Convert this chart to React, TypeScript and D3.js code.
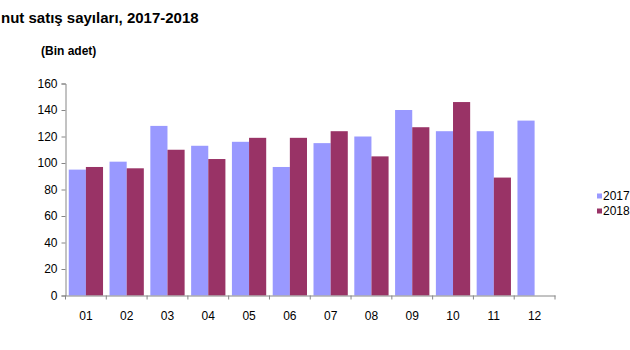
import { useEffect, useRef } from 'react';
import * as d3 from 'd3';

const months = ['01', '02', '03', '04', '05', '06', '07', '08', '09', '10', '11', '12'];
const sales2017 = [95, 101, 128, 113, 116, 97, 115, 120, 140, 124, 124, 132];
const sales2018: (number | null)[] = [97, 96, 110, 103, 119, 119, 124, 105, 127, 146, 89, null];
const yTicks = [0, 20, 40, 60, 80, 100, 120, 140, 160];
const seriesNames = ['2017', '2018'];

const colors = ['#9999ff', '#993366'];
const axisColor = '#868686';
const font = 'Arial, "Liberation Sans", sans-serif';

export default function App() {
  const svgRef = useRef<SVGSVGElement>(null);

  useEffect(() => {
    if (!svgRef.current) return;
    const width = 630;
    const height = 350;
    const margin = { top: 83.5, right: 75, bottom: 54.5, left: 65.5 };

    const svg = d3.select(svgRef.current);
    svg.selectAll('*').remove();
    svg.attr('width', width).attr('height', height);

    const innerW = width - margin.left - margin.right;
    const innerH = height - margin.top - margin.bottom;
    const g = svg.append('g').attr('transform', `translate(${margin.left},${margin.top})`);

    const x = d3.scaleBand().domain(months).range([0, innerW]).paddingInner(0).paddingOuter(0);
    const xInner = d3.scaleBand().domain(seriesNames).range([0, x.bandwidth()]).paddingInner(0).paddingOuter(0.19);
    const y = d3.scaleLinear().domain([0, 160]).range([innerH, 0]);

    // Title (as seen: its start is cut off in the source image)
    svg.append('text')
      .attr('x', 1)
      .attr('y', 23)
      .attr('font-family', font)
      .attr('font-size', 15)
      .attr('font-weight', 'bold')
      .attr('fill', '#000')
      .text('nut satış sayıları, 2017-2018');

    svg.append('text')
      .attr('x', 41)
      .attr('y', 55)
      .attr('font-family', font)
      .attr('font-size', 12)
      .attr('font-weight', 'bold')
      .attr('fill', '#000')
      .text('(Bin adet)');

    // Bars
    const series = [sales2017, sales2018];
    series.forEach((vals, si) => {
      months.forEach((m, i) => {
        const v = vals[i];
        if (v == null) return;
        g.append('rect')
          .attr('x', (x(m) ?? 0) + (xInner(seriesNames[si]) ?? 0))
          .attr('y', y(v))
          .attr('width', xInner.bandwidth())
          .attr('height', innerH - y(v))
          .attr('fill', colors[si]);
      });
    });

    // Y axis
    const yAxis = g.append('g')
      .call(d3.axisLeft(y).tickValues(yTicks).tickSize(4).tickPadding(4));
    yAxis.select('.domain').attr('stroke', axisColor);
    yAxis.selectAll('.tick line').attr('stroke', axisColor);
    yAxis.selectAll('.tick text')
      .attr('font-family', font)
      .attr('font-size', 12)
      .attr('fill', '#000');

    // X axis
    const xAxis = g.append('g')
      .attr('transform', `translate(0,${innerH})`)
      .call(d3.axisBottom(x).tickSize(0).tickPadding(16));
    xAxis.select('.domain').attr('stroke', axisColor);
    xAxis.selectAll('.tick text')
      .attr('font-family', font)
      .attr('font-size', 12)
      .attr('fill', '#000');
    const bounds = months.map((m) => x(m) ?? 0).concat([innerW]);
    xAxis.selectAll('line.bound')
      .data(bounds)
      .enter()
      .append('line')
      .attr('class', 'bound')
      .attr('x1', (d) => d)
      .attr('x2', (d) => d)
      .attr('y1', 0)
      .attr('y2', 4)
      .attr('stroke', axisColor);

    // Legend
    const legend = svg.append('g').attr('transform', 'translate(597,0)');
    seriesNames.forEach((name, i) => {
      const ly = 196 + i * 15;
      legend.append('rect')
        .attr('x', 0)
        .attr('y', ly - 2.5)
        .attr('width', 5)
        .attr('height', 5)
        .attr('fill', colors[i]);
      legend.append('text')
        .attr('x', 6)
        .attr('y', ly)
        .attr('dominant-baseline', 'central')
        .attr('font-family', font)
        .attr('font-size', 12)
        .attr('fill', '#000')
        .text(name);
    });
  }, []);

  return (
    <div style={{ position: 'fixed', left: 0, top: 0, width: 630, height: 350, overflow: 'hidden', background: '#fff' }}>
      <svg ref={svgRef} style={{ display: 'block' }} />
    </div>
  );
}
